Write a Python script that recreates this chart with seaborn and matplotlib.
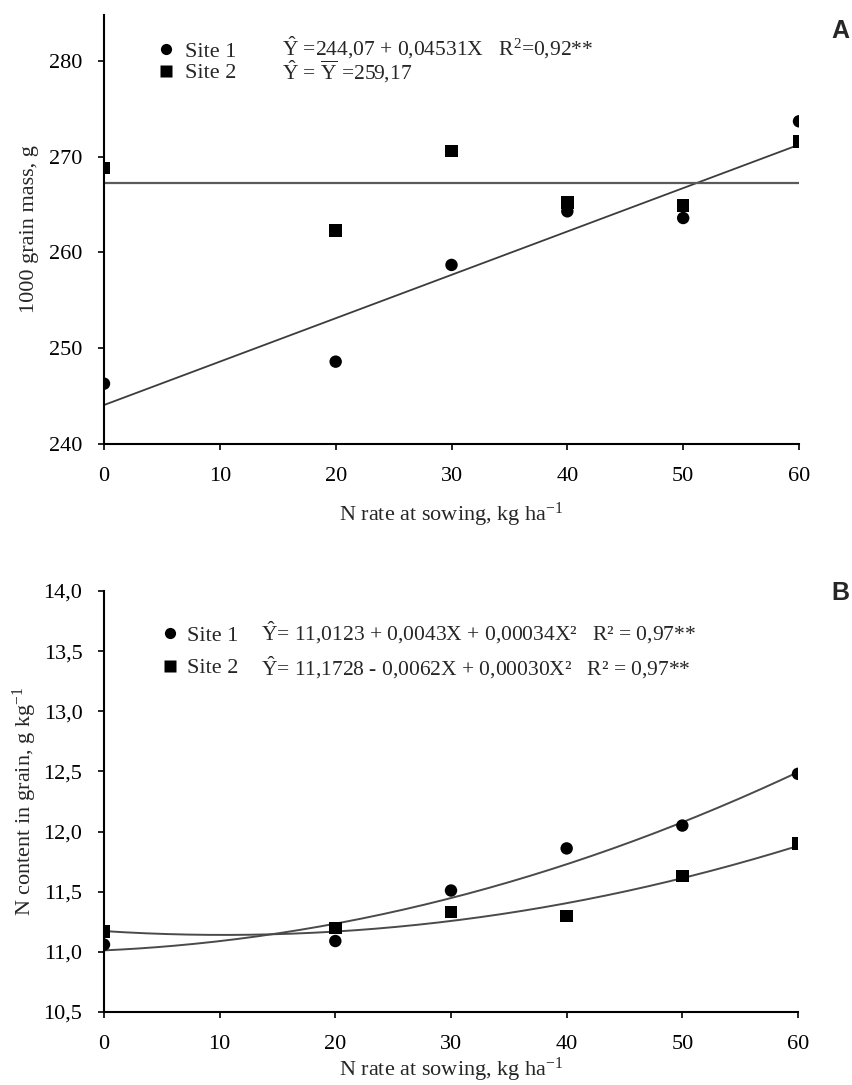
import numpy as np
import pandas as pd
import matplotlib
matplotlib.use("Agg")
import matplotlib.pyplot as plt
import seaborn as sns
from matplotlib.ticker import FuncFormatter

# ---------------- data ----------------
n_rate = [0, 20, 30, 40, 50, 60]
sites = ["Site 1", "Site 2"]

# Panel A: 1000 grain mass (g)
mass_site1 = [246.3, 248.6, 258.7, 264.3, 263.6, 273.7]
mass_site2 = [268.8, 262.3, 270.6, 265.2, 264.9, 271.6]
mass_fit_site1 = [244.07, 0.4531]          # intercept, slope (line as drawn)

# Panel B: N content in grain (g/kg)
ncont_site1 = [11.06, 11.09, 11.51, 11.86, 12.05, 12.48]
ncont_site2 = [11.17, 11.20, 11.33, 11.30, 11.63, 11.90]
ncont_fit_site1 = [11.0123, 0.0043, 0.00034]
ncont_fit_site2 = [11.1728, -0.0062, 0.00030]

x_ticks = [0, 10, 20, 30, 40, 50, 60]
yticks_a = [240, 250, 260, 270, 280]
yticks_b = [10.5, 11.0, 11.5, 12.0, 12.5, 13.0, 13.5, 14.0]

eq_a = [r"$\hat{\mathrm{Y}}$ =244,07 + 0,04531X   R$^{2}$=0,92**",
        r"$\hat{\mathrm{Y}}$ = $\overline{\mathrm{Y}}$ =259,17"]
eq_b = [r"$\hat{\mathrm{Y}}$= 11,0123 + 0,0043X + 0,00034X²   R² = 0,97**",
        r"$\hat{\mathrm{Y}}$= 11,1728 - 0,0062X + 0,00030X²   R² = 0,97**"]

# ---------------- style ----------------
sns.set_theme(style="ticks")
plt.rcParams["font.family"] = ["Liberation Serif", "DejaVu Serif"]
plt.rcParams["mathtext.fontset"] = "custom"
plt.rcParams["mathtext.rm"] = "Liberation Serif"
plt.rcParams["mathtext.it"] = "Liberation Serif:italic"
plt.rcParams["mathtext.bf"] = "Liberation Serif:bold"

FS = 16
W, H = 852, 1085
fig = plt.figure(figsize=(W / 100, H / 100), dpi=100)

def fx(px):
    return px / W

def fy(py):
    return 1 - py / H

ax_a = fig.add_axes([fx(104), fy(444), fx(799) - fx(104), fy(15) - fy(444)])
ax_b = fig.add_axes([fx(104), fy(1012), fx(798) - fx(104), fy(591) - fy(1012)])

df_a = pd.DataFrame({"N": n_rate * 2, "val": mass_site1 + mass_site2,
                     "Site": [sites[0]] * 6 + [sites[1]] * 6})
df_b = pd.DataFrame({"N": n_rate * 2, "val": ncont_site1 + ncont_site2,
                     "Site": [sites[0]] * 6 + [sites[1]] * 6})

markers = {"Site 1": "o", "Site 2": "s"}
line_col = "#3c3c3c"

# ---- Panel A ----
xx = np.linspace(0, 60, 200)
sns.lineplot(x=xx, y=mass_fit_site1[0] + mass_fit_site1[1] * xx, ax=ax_a,
             color=line_col, lw=1.3, zorder=2)
mean2 = np.mean(mass_site2)
sns.lineplot(x=[0, 60], y=[mean2, mean2], ax=ax_a, color="#5a5a5a", lw=1.6, zorder=2)
sns.scatterplot(data=df_a, x="N", y="val", style="Site", markers=markers,
                color="black", s=80, edgecolor="none", ax=ax_a, zorder=3)

# ---- Panel B ----
for coef in (ncont_fit_site1, ncont_fit_site2):
    sns.lineplot(x=xx, y=coef[0] + coef[1] * xx + coef[2] * xx ** 2, ax=ax_b,
                 color="#4a4a4a", lw=1.4, zorder=2)
sns.scatterplot(data=df_b, x="N", y="val", style="Site", markers=markers,
                color="black", s=80, edgecolor="none", ax=ax_b, zorder=3)

for ax in (ax_a, ax_b):
    ax.set_xlim(0, 60)
    ax.set_xticks(x_ticks)
    sns.despine(ax=ax)
    for sp in ("left", "bottom"):
        ax.spines[sp].set_linewidth(1.5)
        ax.spines[sp].set_color("black")
    ax.tick_params(axis="both", direction="out", length=4.5, width=1.2,
                   labelsize=FS, colors="black")
    ax.tick_params(axis="y", pad=11)
    ax.tick_params(axis="x", pad=12)

ax_a.set_xlabel("N rate at sowing, kg ha$^{-1}$", fontsize=FS, labelpad=11)
ax_b.set_xlabel("N rate at sowing, kg ha$^{-1}$", fontsize=FS, labelpad=1)

ax_a.set_ylim(240, 284.8)
ax_a.set_yticks(yticks_a)
ax_a.set_ylabel("1000 grain mass, g", fontsize=FS, labelpad=7)

ax_b.set_ylim(10.5, 14.0)
ax_b.set_yticks(yticks_b)
ax_b.yaxis.set_major_formatter(FuncFormatter(lambda v, p: f"{v:.1f}".replace(".", ",")))
ax_b.set_ylabel("N content in grain, g kg$^{-1}$", fontsize=FS, labelpad=3)

# legends
leg_a = ax_a.legend(loc="upper left", bbox_to_anchor=(fx(146), fy(30)),
                    bbox_transform=fig.transFigure, frameon=False, fontsize=FS,
                    handletextpad=0.45, labelspacing=0.05, borderpad=0,
                    handlelength=0.8, markerscale=0.9)
leg_b = ax_b.legend(loc="upper left", bbox_to_anchor=(fx(150), fy(614)),
                    bbox_transform=fig.transFigure, frameon=False, fontsize=FS,
                    handletextpad=0.35, labelspacing=0.55, borderpad=0,
                    handlelength=0.8, markerscale=0.9)

for i, t in enumerate(eq_a):
    fig.text(fx(282), fy(48 + 24 * i), t, fontsize=15.5, va="center", ha="left")
for i, t in enumerate(eq_b):
    fig.text(fx(261), fy(633 + 35 * i), t, fontsize=15.5, va="center", ha="left")

fig.text(fx(849), fy(31), "A", fontsize=18, fontweight="bold", family="Liberation Sans",
         ha="right", va="center")
fig.text(fx(849), fy(593), "B", fontsize=18, fontweight="bold", family="Liberation Sans",
         ha="right", va="center")

fig.savefig("out.png", dpi=100)
